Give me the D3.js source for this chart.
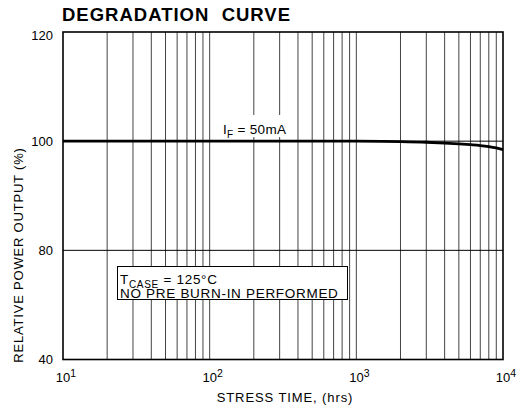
<!DOCTYPE html>
<html>
<head>
<meta charset="utf-8">
<script src="https://cdn.jsdelivr.net/npm/d3@7/dist/d3.min.js"></script>
<style>
  html, body { margin: 0; padding: 0; background: #fff; }
  text { font-family: "Liberation Sans", Arial, Helvetica, sans-serif; fill: #000; }
</style>
</head>
<body>
<svg id="chart" width="524" height="408"></svg>
<script>
// Stress time (hrs) and relative power output (%)
const stressHours = [10, 100, 1000, 1500, 2000, 3000, 4000, 5000, 6000, 7000, 8000, 9000, 10000];
const relativeOutput = [100, 100, 100, 99.97, 99.92, 99.8, 99.65, 99.5, 99.35, 99.2, 99.0, 98.75, 98.45];
const yTicks = [40, 80, 100, 120];
const xDecades = [1, 2, 3, 4];

const svg = d3.select("#chart");
const plotL = 63, plotR = 503, plotT = 32, plotB = 359.5;

const x = d3.scaleLog().domain([10, 10000]).range([plotL, plotR]);
// Broken axis: ticks 40, 80, 100, 120 are evenly spaced
const y = d3.scaleLinear().domain([40, 80, 100, 120])
  .range([plotB, plotB - (plotB - plotT) / 3, plotB - 2 * (plotB - plotT) / 3, plotT]);

// Vertical log grid
const gridX = [];
for (let d = 10; d < 10000; d *= 10) {
  for (let m = 2; m <= 9; m++) gridX.push(d * m);
}
gridX.push(100, 1000);
svg.append("g").selectAll("line").data(gridX).join("line")
  .attr("x1", d => x(d)).attr("x2", d => x(d))
  .attr("y1", plotT).attr("y2", plotB)
  .attr("stroke", "#444").attr("stroke-width", 1);

// Horizontal grid
svg.append("g").selectAll("line").data([80, 100]).join("line")
  .attr("x1", plotL).attr("x2", plotR)
  .attr("y1", d => y(d)).attr("y2", d => y(d))
  .attr("stroke", "#000").attr("stroke-width", 1);

// Frame
svg.append("rect")
  .attr("x", plotL).attr("y", plotT)
  .attr("width", plotR - plotL).attr("height", plotB - plotT)
  .attr("fill", "none").attr("stroke", "#000").attr("stroke-width", 1.6);

// Curve
const line = d3.line().x(d => x(d)).y((d, i) => y(relativeOutput[i])).curve(d3.curveMonotoneX);
svg.append("path").datum(stressHours)
  .attr("d", line)
  .attr("fill", "none").attr("stroke", "#000").attr("stroke-width", 2.8);

// Y tick labels
svg.append("g").selectAll("text").data(yTicks).join("text")
  .attr("x", 53).attr("y", d => Math.max(y(d), 35) + 4.7)
  .attr("text-anchor", "end").attr("font-size", 13)
  .text(d => d);

// X tick labels (10^n)
const xl = svg.append("g").selectAll("text").data(xDecades).join("text")
  .attr("x", d => x(Math.pow(10, d)) + 3).attr("y", 382)
  .attr("text-anchor", "middle").attr("font-size", 13);
xl.append("tspan").text("10");
xl.append("tspan").attr("dy", -5).attr("font-size", 10.5).text(d => d);

// Axis titles
svg.append("text").attr("x", 285).attr("y", 402)
  .attr("text-anchor", "middle").attr("font-size", 13).attr("letter-spacing", 0.9)
  .text("STRESS TIME, (hrs)");
svg.append("text")
  .attr("transform", "translate(23,255) rotate(-90)")
  .attr("text-anchor", "middle").attr("font-size", 13).attr("letter-spacing", 0.8)
  .text("RELATIVE POWER OUTPUT (%)");

// Title
svg.append("text").attr("x", 62).attr("y", 20.5)
  .attr("font-size", 18.5).attr("font-weight", "bold").attr("letter-spacing", 1)
  .style("white-space", "pre")
  .text("DEGRADATION  CURVE");

// Current annotation on a white patch
svg.append("rect").attr("x", 212).attr("y", 115).attr("width", 84).attr("height", 22).attr("fill", "#fff");
const cur = svg.append("text").attr("x", 223).attr("y", 133.5).attr("font-size", 13.5).attr("letter-spacing", 0.3);
cur.append("tspan").text("I");
cur.append("tspan").attr("dy", 4).attr("font-size", 10).text("F");
cur.append("tspan").attr("dy", -4).text(" = 50mA");

// Condition box
svg.append("rect").attr("x", 117.5).attr("y", 266.5).attr("width", 230).attr("height", 33)
  .attr("fill", "#fff").attr("stroke", "#000").attr("stroke-width", 1);
const t1 = svg.append("text").attr("x", 120).attr("y", 284).attr("font-size", 13.5).attr("letter-spacing", 0.7);
t1.append("tspan").text("T");
t1.append("tspan").attr("dy", 3.5).attr("font-size", 10).text("CASE");
t1.append("tspan").attr("dy", -3.5).text(" = 125°C");
svg.append("text").attr("x", 120).attr("y", 297.5).attr("font-size", 13.5).attr("letter-spacing", 0.7)
  .text("NO PRE BURN-IN PERFORMED");
</script>
</body>
</html>
